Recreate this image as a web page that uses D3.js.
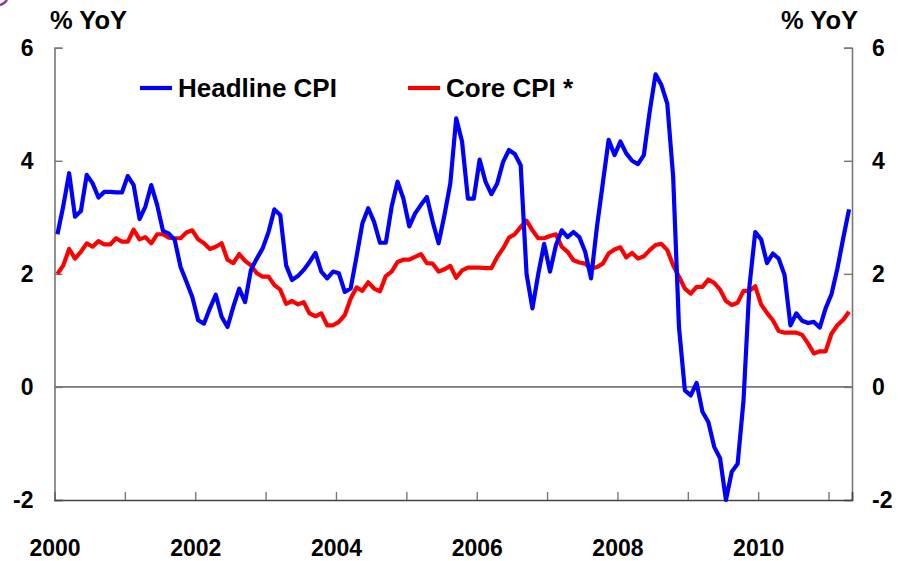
<!DOCTYPE html>
<html>
<head>
<meta charset="utf-8">
<script src="https://cdn.jsdelivr.net/npm/d3@7"></script>
<style>
  html, body { margin: 0; padding: 0; background: #fff; }
  svg { display: block; font-family: "Liberation Sans", Arial, sans-serif; font-weight: bold; }
</style>
</head>
<body>
<svg id="chart" width="900" height="561"></svg>
<script>
// ---- Data (monthly, Jan 2000 – Apr 2011, % YoY) ----
const startYear = 2000;
const headlineCPI = [
  2.70, 3.20, 3.78, 3.01, 3.11, 3.75, 3.60, 3.35, 3.45, 3.45, 3.44, 3.44,
  3.73, 3.57, 2.97, 3.19, 3.57, 3.22, 2.76, 2.71, 2.60, 2.12, 1.86, 1.59,
  1.18, 1.12, 1.39, 1.63, 1.24, 1.06, 1.42, 1.74, 1.50, 2.07, 2.27, 2.45,
  2.74, 3.14, 3.04, 2.15, 1.89, 1.96, 2.07, 2.21, 2.37, 2.04, 1.92, 2.04,
  2.01, 1.68, 1.74, 2.30, 2.89, 3.16, 2.92, 2.55, 2.55, 3.19, 3.63, 3.33,
  2.84, 3.07, 3.22, 3.36, 2.92, 2.54, 3.04, 3.60, 4.75, 4.34, 3.33, 3.33,
  4.02, 3.63, 3.41, 3.60, 3.98, 4.19, 4.12, 3.92, 2.00, 1.39, 2.00, 2.53,
  2.04, 2.50, 2.77, 2.65, 2.74, 2.65, 2.39, 1.92, 2.83, 3.60, 4.37, 4.10,
  4.34, 4.13, 4.00, 3.94, 4.10, 4.87, 5.53, 5.34, 5.01, 3.72, 1.05, -0.06,
  -0.15, 0.07, -0.44, -0.62, -1.06, -1.26, -2.00, -1.50, -1.36, -0.24, 1.77, 2.74,
  2.61, 2.19, 2.36, 2.27, 1.98, 1.09, 1.30, 1.17, 1.13, 1.15, 1.05, 1.39,
  1.64, 2.09, 2.63, 3.14
];
const coreCPI = [
  2.00, 2.15, 2.44, 2.27, 2.39, 2.54, 2.48, 2.58, 2.52, 2.52, 2.63, 2.57,
  2.57, 2.78, 2.61, 2.65, 2.54, 2.70, 2.70, 2.64, 2.63, 2.63, 2.73, 2.77,
  2.61, 2.54, 2.44, 2.48, 2.54, 2.25, 2.19, 2.35, 2.23, 2.15, 2.01, 1.95,
  1.95, 1.80, 1.72, 1.47, 1.52, 1.46, 1.50, 1.30, 1.25, 1.30, 1.09, 1.09,
  1.15, 1.27, 1.56, 1.76, 1.70, 1.85, 1.74, 1.69, 1.96, 2.04, 2.21, 2.25,
  2.25, 2.30, 2.35, 2.19, 2.18, 2.04, 2.08, 2.14, 1.93, 2.06, 2.11, 2.11,
  2.11, 2.10, 2.10, 2.30, 2.45, 2.64, 2.70, 2.83, 2.94, 2.77, 2.63, 2.63,
  2.67, 2.70, 2.48, 2.39, 2.24, 2.20, 2.18, 2.09, 2.12, 2.18, 2.36, 2.43,
  2.47, 2.29, 2.37, 2.27, 2.31, 2.42, 2.51, 2.53, 2.42, 2.15, 1.95, 1.74,
  1.65, 1.77, 1.77, 1.90, 1.84, 1.72, 1.52, 1.45, 1.49, 1.70, 1.70, 1.78,
  1.46, 1.31, 1.18, 0.99, 0.96, 0.96, 0.96, 0.92, 0.77, 0.59, 0.63, 0.63,
  0.94, 1.09, 1.19, 1.33
];
const yTicks = [-2, 0, 2, 4, 6];
const yearTicks = [2000, 2001, 2002, 2003, 2004, 2005, 2006, 2007, 2008, 2009, 2010, 2011];
const yearLabels = [2000, 2002, 2004, 2006, 2008, 2010];
const seriesNames = ["Headline CPI", "Core CPI *"];
const unitLabel = "% YoY";

// ---- Layout ----
const svg = d3.select("#chart");
const plotLeft = 54.5, plotRight = 852, plotTop = 47.7, plotBottom = 500;
const nMonths = headlineCPI.length;

const x = d3.scaleLinear()
  .domain([startYear, startYear + nMonths / 12])
  .range([plotLeft, plotRight]);
const y = d3.scaleLinear().domain([-2, 6]).range([plotBottom, plotTop]);
const xOf = i => x(startYear + (i + 0.5) / 12);

const axisColor = "#777";
const fmtY = d => String(d);   // plain hyphen-minus like the original

// zero line
svg.append("line")
  .attr("x1", plotLeft).attr("x2", plotRight)
  .attr("y1", y(0)).attr("y2", y(0))
  .attr("stroke", axisColor).attr("stroke-width", 1.8);

// left axis
const gL = svg.append("g").attr("transform", `translate(${plotLeft},0)`)
  .call(d3.axisLeft(y).tickValues(yTicks).tickSize(-8).tickPadding(21).tickFormat(fmtY));
// right axis
const gR = svg.append("g").attr("transform", `translate(${plotRight},0)`)
  .call(d3.axisRight(y).tickValues(yTicks).tickSize(-8).tickPadding(20).tickFormat(fmtY));
// bottom axis
const gB = svg.append("g").attr("transform", `translate(0,${plotBottom})`)
  .call(d3.axisBottom(x).tickValues(yearTicks).tickSize(-8).tickPadding(40)
    .tickFormat(d => yearLabels.includes(d) ? String(d) : ""));

[gL, gR, gB].forEach(g => {
  g.select(".domain").attr("stroke", axisColor).attr("stroke-width", 1.6);
  g.selectAll(".tick line").attr("stroke", axisColor).attr("stroke-width", 1.4);
  g.selectAll(".tick text").attr("fill", "#000")
    .style("font-family", '"Liberation Sans", Arial, sans-serif')
    .style("font-weight", "bold").style("font-size", "23px");
});
gB.select(".domain").attr("stroke", "#444");

// unit labels
svg.append("text").attr("x", 50).attr("y", 29).attr("font-size", 25.5).attr("fill", "#000").text(unitLabel);
svg.append("text").attr("x", 858).attr("y", 29).attr("font-size", 25.5).attr("fill", "#000")
  .attr("text-anchor", "end").text(unitLabel);

// lines
const line = d3.line().x((d, i) => xOf(i)).y(d => y(d));
svg.append("path").datum(coreCPI).attr("d", line)
  .attr("fill", "none").attr("stroke", "#FF0000").attr("stroke-width", 4.2)
  .attr("stroke-linejoin", "round");
svg.append("path").datum(headlineCPI).attr("d", line)
  .attr("fill", "none").attr("stroke", "#0000FF").attr("stroke-width", 4.2)
  .attr("stroke-linejoin", "round");

// legend
const legend = [
  { name: seriesNames[0], color: "#0000FF", x0: 140 },
  { name: seriesNames[1], color: "#FF0000", x0: 408 }
];
legend.forEach(l => {
  svg.append("line").attr("x1", l.x0).attr("x2", l.x0 + 32).attr("y1", 88).attr("y2", 88)
    .attr("stroke", l.color).attr("stroke-width", 4.2);
  svg.append("text").attr("x", l.x0 + 38).attr("y", 97).attr("font-size", 26).attr("fill", "#000").text(l.name);
});

// small corner mark
svg.append("path").attr("d", "M0,5 Q4,4 7,0").attr("fill", "none")
  .attr("stroke", "#8a3f9a").attr("stroke-width", 2.5);
</script>
</body>
</html>
